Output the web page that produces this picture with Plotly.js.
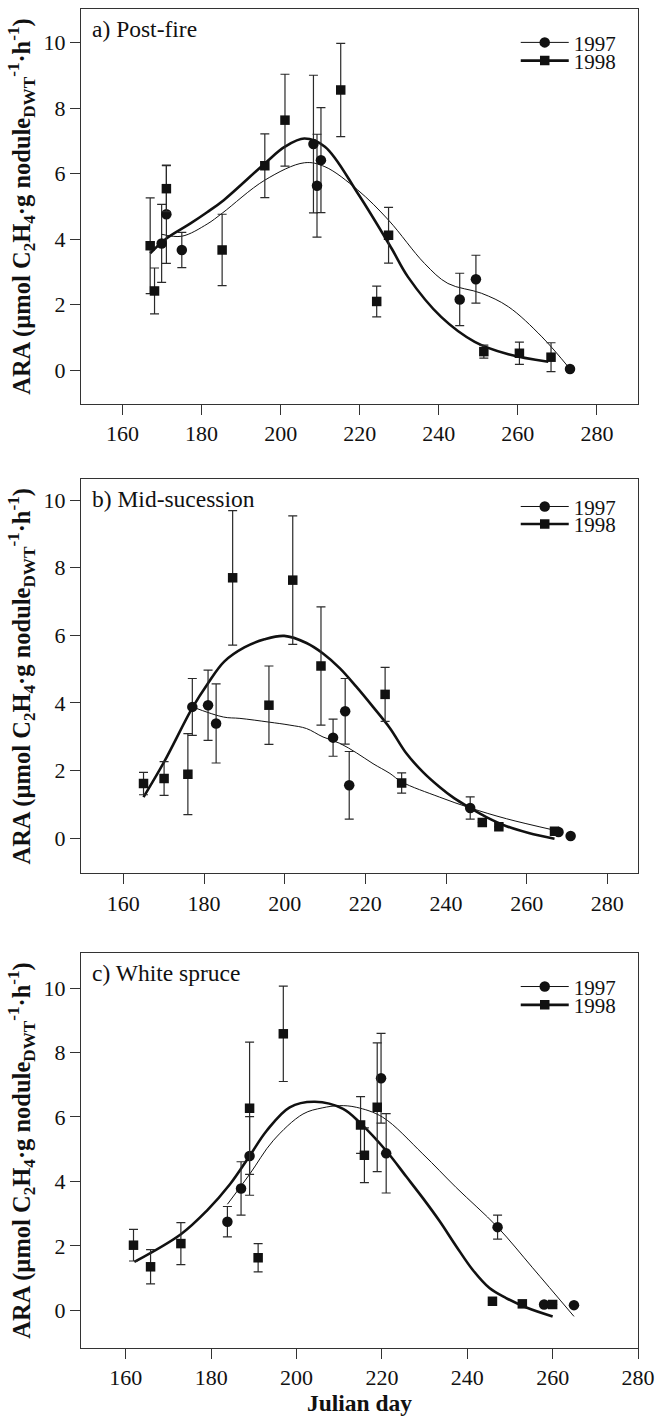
<!DOCTYPE html>
<html>
<head>
<meta charset="utf-8">
<script src="https://cdn.plot.ly/plotly-3.0.1.min.js"></script>
<style>
html,body{margin:0;padding:0;background:#ffffff;}
#chart{width:666px;height:1418px;}
</style>
</head>
<body>
<div id="chart"></div>
<script>
// ---------- Panel a) Post-fire ----------
const a97Day = [169.9, 171.1, 175.0, 208.3, 209.2, 210.2, 245.3, 249.4, 273.2];
const a97Ara = [3.87, 4.76, 3.67, 6.90, 5.63, 6.41, 2.16, 2.78, 0.04];
const a97Se  = [1.19, 1.50, 0.54, 2.10, 1.57, 1.60, 0.80, 0.73, 0];
const a98Day = [167.0, 168.1, 171.1, 185.2, 196.0, 201.1, 215.2, 224.3, 227.3, 251.4, 260.4, 268.4];
const a98Ara = [3.80, 2.42, 5.54, 3.67, 6.24, 7.63, 8.55, 2.10, 4.12, 0.57, 0.52, 0.40];
const a98Se  = [1.46, 0.70, 0.70, 1.09, 0.97, 1.40, 1.42, 0.47, 0.85, 0.20, 0.34, 0.44];
const a97FitDay = [169.9, 175.0, 181.4, 185.2, 196.0, 206.0, 211.2, 219.5, 227.3, 236.4, 242.3, 250.8, 257.6, 266.1, 273.2];
const a97FitAra = [4.15, 4.09, 4.46, 4.79, 5.80, 6.33, 6.21, 5.50, 4.58, 3.26, 2.65, 2.35, 1.94, 1.02, 0.04];
const a98FitDay = [167.0, 171.1, 177.2, 181.4, 185.6, 196.0, 201.1, 206.0, 211.2, 219.5, 228.0, 232.2, 240.6, 249.1, 257.6, 267.7];
const a98FitAra = [3.57, 4.02, 4.48, 4.82, 5.19, 6.31, 6.82, 7.07, 6.82, 5.40, 3.73, 2.85, 1.63, 0.87, 0.49, 0.26];

// ---------- Panel b) Mid-sucession ----------
const b97Day = [177.1, 181.0, 183.0, 212.0, 215.0, 216.0, 246.0, 267.9, 270.9];
const b97Ara = [3.88, 3.93, 3.39, 2.97, 3.75, 1.56, 0.89, 0.18, 0.06];
const b97Se  = [0.84, 1.04, 1.17, 0.55, 0.97, 1.00, 0.33, 0, 0];
const b98Day = [165.0, 170.1, 176.0, 187.1, 196.1, 202.0, 209.0, 224.9, 229.0, 249.0, 253.1, 266.9];
const b98Ara = [1.61, 1.76, 1.89, 7.70, 3.93, 7.63, 5.09, 4.25, 1.63, 0.46, 0.33, 0.20];
const b98Se  = [0.33, 0.50, 1.20, 1.99, 1.16, 1.90, 1.75, 0.80, 0.30, 0, 0, 0];
const b97FitDay = [177.1, 184.8, 188.9, 196.1, 201.3, 205.4, 209.5, 213.7, 217.8, 221.9, 226.1, 229.0, 238.4, 246.0, 255.0, 266.9];
const b97FitAra = [3.88, 3.58, 3.54, 3.43, 3.34, 3.24, 2.99, 2.80, 2.52, 2.20, 1.91, 1.66, 1.21, 0.89, 0.57, 0.23];
const b98FitDay = [165.0, 170.1, 177.1, 181.0, 185.0, 190.0, 195.0, 199.9, 205.4, 209.5, 213.7, 217.8, 221.9, 226.1, 230.2, 234.3, 238.4, 242.0, 246.0, 250.0, 255.0, 260.5, 266.9];
const b98FitAra = [1.21, 2.25, 3.85, 4.58, 5.22, 5.64, 5.88, 5.98, 5.77, 5.46, 5.02, 4.47, 3.88, 3.25, 2.50, 1.95, 1.51, 1.18, 0.89, 0.62, 0.35, 0.15, -0.02];

// ---------- Panel c) White spruce ----------
const c97Day = [183.8, 187.0, 189.0, 219.8, 221.0, 247.1, 258.0, 265.0];
const c97Ara = [2.75, 3.78, 4.79, 7.20, 4.87, 2.58, 0.18, 0.16];
const c97Se  = [0.47, 0.83, 1.22, 1.39, 1.23, 0.37, 0, 0];
const c98Day = [161.8, 165.8, 172.9, 189.0, 191.0, 196.9, 215.0, 215.9, 218.9, 245.9, 252.9, 260.0];
const c98Ara = [2.02, 1.35, 2.07, 6.27, 1.63, 8.58, 5.75, 4.81, 6.30, 0.28, 0.20, 0.18];
const c98Se  = [0.49, 0.53, 0.65, 2.05, 0.44, 1.48, 0.88, 0.85, 2.00, 0, 0, 0];
const c97FitDay = [183.8, 189.0, 194.5, 201.5, 206.0, 210.1, 214.0, 220.2, 229.6, 237.4, 247.1, 255.3, 265.0];
const c97FitAra = [3.29, 4.22, 5.26, 6.09, 6.28, 6.35, 6.30, 5.99, 4.85, 3.81, 2.58, 1.32, -0.19];
const c98FitDay = [162.0, 172.9, 178.9, 184.4, 189.0, 193.0, 198.4, 204.3, 210.9, 215.0, 221.0, 225.7, 229.6, 233.5, 237.4, 241.3, 245.2, 249.1, 254.0, 260.0];
const c98FitAra = [1.50, 2.36, 3.08, 3.91, 4.79, 5.57, 6.30, 6.47, 6.25, 5.80, 4.95, 4.15, 3.48, 2.77, 1.99, 1.25, 0.69, 0.38, 0.08, -0.19];

const panelLabels = ['a) Post-fire', 'b) Mid-sucession', 'c) White spruce'];
const seriesNames = ['1997', '1998'];
const xTicks = [160, 180, 200, 220, 240, 260, 280];
const yTicks = [0, 2, 4, 6, 8, 10];

const FONT = 'Liberation Serif, Times New Roman, Times, serif';
const INK = '#111111';
const AXC = '#333333';

const panels = [
  {d97:[a97Day,a97Ara,a97Se], d98:[a98Day,a98Ara,a98Se], f97:[a97FitDay,a97FitAra], f98:[a98FitDay,a98FitAra],
   xr:[149.5, 290.4], yr:[-1.03, 11.02], ydom:[0.70494, 1.0], leg:[0.9748, 0.9612]},
  {d97:[b97Day,b97Ara,b97Se], d98:[b98Day,b98Ara,b98Se], f97:[b97FitDay,b97FitAra], f98:[b98FitDay,b98FitAra],
   xr:[149.5, 287.6], yr:[-1.05, 10.62], ydom:[0.35437, 0.64892], leg:[0.6282, 0.6151]},
  {d97:[c97Day,c97Ara,c97Se], d98:[c98Day,c98Ara,c98Se], f97:[c97FitDay,c97FitAra], f98:[c98FitDay,c98FitAra],
   xr:[149.5, 280.0], yr:[-1.17, 11.09], ydom:[0.0, 0.29507], leg:[0.2697, 0.2560]}
];

const traces = [];
const layout = {
  width: 666, height: 1418,
  margin: {l: 80.5, r: 27.5, t: 9, b: 70.3},
  paper_bgcolor: '#ffffff', plot_bgcolor: '#ffffff',
  font: {family: FONT, size: 22, color: INK},
  showlegend: true,
  annotations: []
};

const ytitle = 'ARA (µmol C<sub>2</sub>H<sub>4</sub>·g nodule<sub>DWT</sub><sup>-1</sup>·h<sup>-1</sup>)';

panels.forEach((p, i) => {
  const sfx = i === 0 ? '' : String(i + 1);
  const xa = 'x' + sfx, ya = 'y' + sfx;
  // fitted curves
  traces.push({type:'scatter', mode:'lines', x:p.f97[0], y:p.f97[1], xaxis:xa, yaxis:ya,
    line:{color:INK, width:1, shape:'spline', smoothing:1}, showlegend:false, hoverinfo:'skip'});
  traces.push({type:'scatter', mode:'lines', x:p.f98[0], y:p.f98[1], xaxis:xa, yaxis:ya,
    line:{color:INK, width:2.6, shape:'spline', smoothing:1}, showlegend:false, hoverinfo:'skip'});
  // data points with error bars
  traces.push({type:'scatter', mode:'markers', x:p.d97[0], y:p.d97[1], xaxis:xa, yaxis:ya,
    marker:{symbol:'circle', size:10.5, color:INK},
    error_y:{type:'data', array:p.d97[2], visible:true, color:'#2a2a2a', thickness:1.2, width:4.5},
    showlegend:false});
  traces.push({type:'scatter', mode:'markers', x:p.d98[0], y:p.d98[1], xaxis:xa, yaxis:ya,
    marker:{symbol:'square', size:9.5, color:INK},
    error_y:{type:'data', array:p.d98[2], visible:true, color:'#2a2a2a', thickness:1.2, width:4.5},
    showlegend:false});
  // legend entries
  const l1 = 'legend' + (i === 0 ? '' : String(2 * i + 1));
  const l2 = 'legend' + String(2 * i + 2);
  traces.push({type:'scatter', mode:'lines+markers', x:[null], y:[null], xaxis:xa, yaxis:ya,
    name:seriesNames[0], legend:l1, line:{color:INK, width:1}, marker:{symbol:'circle', size:10.5, color:INK}});
  traces.push({type:'scatter', mode:'lines+markers', x:[null], y:[null], xaxis:xa, yaxis:ya,
    name:seriesNames[1], legend:l2, line:{color:INK, width:2.6}, marker:{symbol:'square', size:9.5, color:INK}});
  [[l1, p.leg[0]], [l2, p.leg[1]]].forEach(([lk, ly]) => {
    layout[lk] = {x:0.7805, y:ly, xanchor:'left', yanchor:'middle', xref:'paper', yref:'paper',
      bgcolor:'rgba(0,0,0,0)', borderwidth:0, font:{family:FONT, size:21, color:INK}, itemwidth:48};
  });

  const axCommon = {showline:true, mirror:true, linecolor:AXC, linewidth:1, ticks:'outside', ticklen:10,
    tickcolor:AXC, tickwidth:1, showgrid:false, zeroline:false, tickfont:{family:FONT, size:22, color:INK}};
  layout['xaxis' + sfx] = Object.assign({}, axCommon, {domain:[0, 1], anchor:ya, range:p.xr,
    tickmode:'array', tickvals:xTicks, ticktext:xTicks.map(String)});
  layout['yaxis' + sfx] = Object.assign({}, axCommon, {domain:p.ydom, anchor:xa, range:p.yr,
    tickmode:'array', tickvals:yTicks, ticktext:yTicks.map(String),
    title:{text:ytitle, font:{family:FONT, size:24.5, color:INK, weight:'bold'}, standoff:6}});
  layout.annotations.push({xref:xa + ' domain', yref:ya + ' domain', x:0.017, y:0.95, xanchor:'left', yanchor:'middle',
    text:panelLabels[i], showarrow:false, font:{family:FONT, size:23.5, color:INK}});
});
layout.xaxis3.title = {text:'Julian day', font:{family:FONT, size:23.5, color:INK, weight:'bold'}, standoff:0};

Plotly.newPlot('chart', traces, layout, {staticPlot:true, displayModeBar:false});
</script>
</body>
</html>
